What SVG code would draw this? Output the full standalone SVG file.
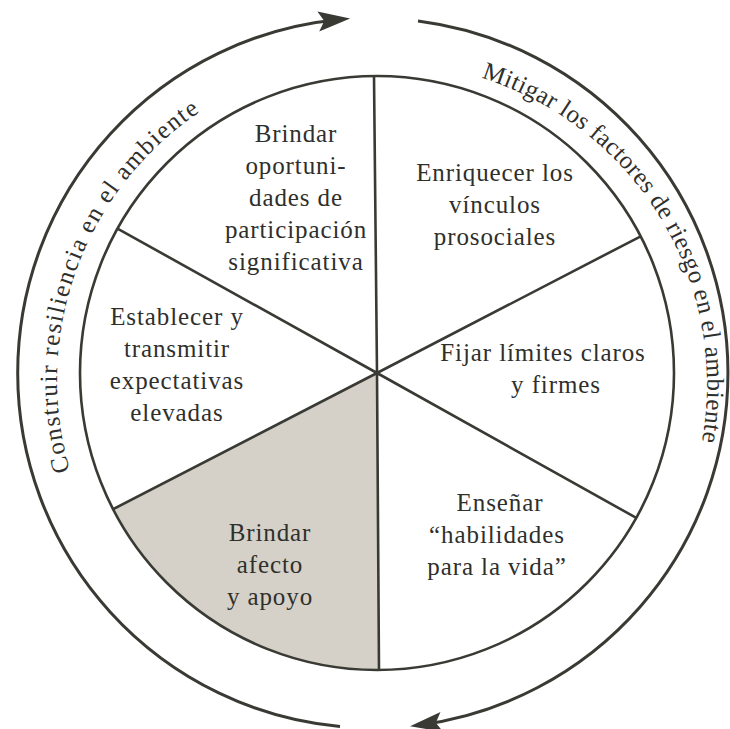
<svg xmlns="http://www.w3.org/2000/svg" width="730" height="729" viewBox="0 0 730 729">
<style>
.ln{fill:none;stroke:#3a3a35;stroke-width:2.6}
.arc{fill:none;stroke:#3a3a35;stroke-width:3}
.t{font-family:"Liberation Serif",serif;font-size:25px;fill:#2f2f2c;text-anchor:middle;letter-spacing:0.9px}
.at{font-family:"Liberation Serif",serif;font-size:25px;fill:#2f2f2c}
</style>
<defs>
<marker id="ah" markerUnits="userSpaceOnUse" markerWidth="50" markerHeight="30" refX="25" refY="15" orient="auto" overflow="visible">
<path d="M35,15 L3,5 L9,15 L3,25 Z" fill="#3a3a35"/>
</marker>
<path id="lp" d="M132.6,587.6 A323,323 0 0 1 323.9,61.9"/>
<path id="rp" d="M385,63 A322,322 0 0 1 663.9,546"/>
</defs>
<rect width="730" height="729" fill="#ffffff"/>
<g id="connectors">
<path id="cycle-left" class="arc" d="M340,726.5 A355,355 0 0 1 340.2,19.5" marker-end="url(#ah)"/>
<path id="cycle-right" class="arc" d="M418,20.9 A355,355 0 0 1 420,724.9" marker-end="url(#ah)"/>
</g>
<g id="wheel">
<path id="shade" d="M377,373 L113.1,509.2 A297,297 0 0 0 379,670 Z" fill="#d5d1c8"/>
<circle cx="377" cy="373" r="297" class="ln"/>
<path class="ln" d="M374,76 L377,373 L379,670 M377,373 L117.5,228.6 M377,373 L640.7,236.3 M377,373 L636.3,517.9 M377,373 L113.1,509.2"/>
</g>
<g id="node-participacion">
<text class="t" y="142"><tspan x="296">Brindar</tspan><tspan x="296" dy="32">oportuni-</tspan><tspan x="296" dy="32">dades de</tspan><tspan x="296" dy="32">participación</tspan><tspan x="296" dy="32">significativa</tspan></text>
</g>
<g id="node-vinculos">
<text class="t" y="181"><tspan x="495">Enriquecer los</tspan><tspan x="495" dy="32">vínculos</tspan><tspan x="495" dy="32">prosociales</tspan></text>
</g>
<g id="node-expectativas">
<text class="t" y="325"><tspan x="177">Establecer y</tspan><tspan x="177" dy="32">transmitir</tspan><tspan x="177" dy="32">expectativas</tspan><tspan x="177" dy="32">elevadas</tspan></text>
</g>
<g id="node-limites">
<text class="t" y="361"><tspan x="543">Fijar límites claros</tspan><tspan x="556" dy="32">y firmes</tspan></text>
</g>
<g id="node-afecto">
<text class="t" y="541"><tspan x="270">Brindar</tspan><tspan x="270" dy="32">afecto</tspan><tspan x="270" dy="32">y apoyo</tspan></text>
</g>
<g id="node-habilidades">
<text class="t" y="511"><tspan x="500">Enseñar</tspan><tspan x="497" dy="32">“habilidades</tspan><tspan x="497" dy="32">para la vida”</tspan></text>
</g>
<g id="node-construir">
<text class="at" letter-spacing="1.5"><textPath href="#lp" startOffset="50%" text-anchor="middle">Construir resiliencia en el ambiente</textPath></text>
</g>
<g id="node-mitigar">
<text class="at" letter-spacing="0.45"><textPath href="#rp" startOffset="49%" text-anchor="middle">Mitigar los factores de riesgo en el ambiente</textPath></text>
</g>
</svg>
